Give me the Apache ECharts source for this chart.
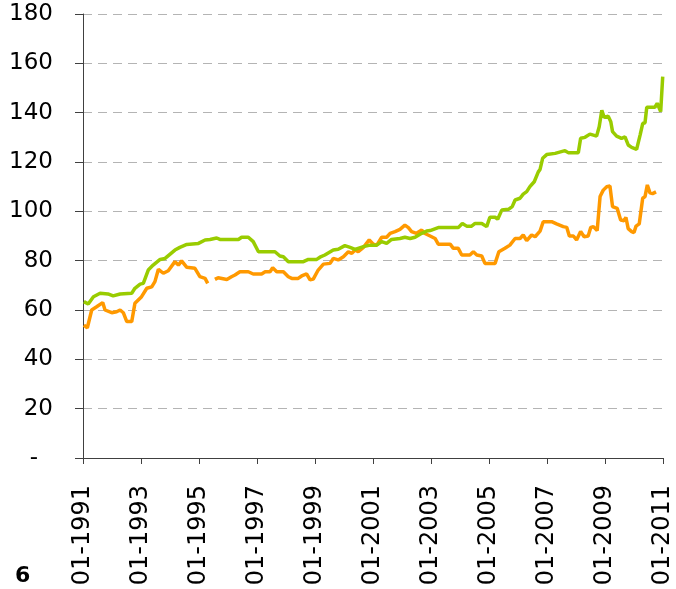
<!DOCTYPE html>
<html>
<head>
<meta charset="utf-8">
<style>
  html, body { margin: 0; padding: 0; background: #fff; }
  #chart { width: 676px; height: 589px; }
</style>
<script src="https://cdn.jsdelivr.net/npm/echarts@6/dist/echarts.min.js"></script>
</head>
<body>
<div id="chart"></div>
<script>
// x positions are decimal years (Jan 1991 = 1991.0)
const START_YEAR = 1991;
const END_YEAR = 2011;
const yTicks = [0, 20, 40, 60, 80, 100, 120, 140, 160, 180];

const greenYears = [
  1991.03, 1991.18, 1991.36, 1991.59, 1991.86, 1992.04, 1992.28, 1992.68, 1992.79, 1992.97,
  1993.08, 1993.25, 1993.42, 1993.66, 1993.83, 1994.17, 1994.34, 1994.58, 1994.98, 1995.21,
  1995.38, 1995.61, 1995.72, 1996.36, 1996.47, 1996.70, 1996.87, 1997.05, 1997.62, 1997.79,
  1997.91, 1998.08, 1998.60, 1998.77, 1999.06, 1999.17, 1999.34, 1999.63, 1999.80, 2000.03,
  2000.21, 2000.38, 2000.67, 2000.90, 2001.13, 2001.30, 2001.47, 2001.64, 2001.93, 2002.10,
  2002.28, 2002.45, 2002.68, 2002.85, 2002.97, 2003.25, 2003.94, 2004.08, 2004.23, 2004.40,
  2004.52, 2004.75, 2004.92, 2005.03, 2005.21, 2005.30, 2005.44, 2005.67, 2005.80, 2005.90,
  2006.07, 2006.18, 2006.30, 2006.41, 2006.56, 2006.70, 2006.76, 2006.85, 2006.99, 2007.28,
  2007.62, 2007.73, 2008.08, 2008.16, 2008.31, 2008.48, 2008.60, 2008.71, 2008.80, 2008.89,
  2008.97, 2009.11, 2009.20, 2009.26, 2009.40, 2009.57, 2009.69, 2009.80, 2009.92, 2010.09,
  2010.21, 2010.30, 2010.38, 2010.44, 2010.72, 2010.80, 2010.92, 2010.99
];
const greenValues = [
  63.4, 62.4, 65.4, 66.8, 66.5, 65.7, 66.5, 66.8, 68.8, 70.5,
  70.8, 76.2, 78.2, 80.5, 80.9, 84.3, 85.4, 86.6, 87.0, 88.4,
  88.6, 89.2, 88.6, 88.6, 89.5, 89.5, 87.7, 83.6, 83.6, 81.9,
  81.6, 79.6, 79.6, 80.5, 80.5, 81.4, 82.3, 84.3, 84.6, 86.1,
  85.4, 84.6, 85.7, 86.3, 86.3, 87.7, 87.0, 88.6, 89.0, 89.5,
  89.0, 89.5, 91.1, 92.0, 92.2, 93.4, 93.4, 95.1, 94.0, 94.0,
  95.1, 95.1, 93.8, 97.6, 97.6, 96.8, 100.5, 100.8, 101.9, 104.6,
  105.3, 107.0, 108.0, 110.0, 112.0, 116.0, 117.0, 121.5, 123.0, 123.5,
  124.6, 123.8, 123.8, 129.6, 130.0, 131.3, 130.9, 130.5, 134.3, 141.0,
  138.1, 138.6, 136.3, 132.3, 130.5, 129.6, 130.2, 126.9, 125.9, 125.1,
  130.9, 135.6, 135.9, 142.2, 142.2, 143.8, 140.4, 154.6
];

const orangeYears = [
  1991.03, 1991.15, 1991.30, 1991.47, 1991.68, 1991.76, 1991.99, 1992.16, 1992.28, 1992.39,
  1992.51, 1992.68, 1992.79, 1993.02, 1993.20, 1993.37, 1993.48, 1993.60, 1993.77, 1993.94,
  1994.17, 1994.29, 1994.40, 1994.58, 1994.86, 1995.03, 1995.21, 1995.30, 1995.42, 1995.55,
  1995.66, 1995.96, 1996.12, 1996.24, 1996.41, 1996.70, 1996.87, 1997.16, 1997.28, 1997.45,
  1997.54, 1997.68, 1997.91, 1998.08, 1998.20, 1998.42, 1998.54, 1998.71, 1998.83, 1998.94,
  1999.11, 1999.29, 1999.52, 1999.63, 1999.80, 1999.98, 2000.15, 2000.27, 2000.38, 2000.49,
  2000.67, 2000.87, 2001.01, 2001.13, 2001.30, 2001.47, 2001.59, 2001.76, 2001.93, 2002.10,
  2002.22, 2002.33, 2002.50, 2002.68, 2002.79, 2002.97, 2003.14, 2003.25, 2003.66, 2003.77,
  2003.94, 2004.06, 2004.34, 2004.46, 2004.58, 2004.75, 2004.86, 2005.21, 2005.34, 2005.55,
  2005.72, 2005.90, 2006.07, 2006.18, 2006.30, 2006.47, 2006.59, 2006.76, 2006.87, 2007.16,
  2007.33, 2007.56, 2007.68, 2007.77, 2007.91, 2008.02, 2008.16, 2008.28, 2008.42, 2008.51,
  2008.60, 2008.73, 2008.83, 2008.94, 2009.06, 2009.17, 2009.26, 2009.42, 2009.54, 2009.66,
  2009.72, 2009.80, 2009.92, 2010.00, 2010.07, 2010.18, 2010.30, 2010.38, 2010.46, 2010.55,
  2010.64, 2010.76
];
const orangeValues = [
  53.9, 52.8, 60.0, 61.3, 63.0, 60.0, 58.9, 59.3, 60.0, 58.9,
  55.3, 55.3, 62.7, 65.4, 68.8, 69.4, 71.5, 76.5, 74.9, 75.9,
  79.6, 78.2, 79.9, 77.3, 76.9, 73.5, 72.8, 70.8, null, 72.4,
  73.1, 72.4, 73.5, 74.2, 75.5, 75.5, 74.6, 74.6, 75.5, 75.5,
  77.1, 75.5, 75.5, 73.5, 72.8, 72.8, 73.8, 74.6, 72.2, 72.5,
  76.2, 78.6, 78.9, 80.9, 80.3, 81.6, 83.6, 83.0, 84.3, 83.6,
  85.4, 88.4, 86.7, 86.3, 89.5, 89.5, 91.1, 91.8, 92.7, 94.4,
  93.4, 91.8, 91.1, 92.4, 91.0, 90.0, 89.0, 86.7, 86.7, 85.0,
  85.0, 82.3, 82.3, 83.6, 82.3, 81.9, 78.9, 78.9, 83.6, 85.0,
  86.3, 89.0, 89.0, 90.4, 88.1, 90.4, 89.7, 92.0, 95.8, 95.8,
  94.9, 93.8, 93.5, 90.0, 90.0, 88.4, 91.8, 89.7, 90.0, 93.5,
  93.8, 92.2, 106.0, 108.6, 110.0, 110.3, 101.9, 101.2, 96.5, 96.2,
  97.6, 93.0, 91.8, 91.4, 94.0, 94.9, 105.3, 106.0, 110.7, 107.5,
  107.2, 107.9
];

const GREEN = '#99cc00';
const ORANGE = '#ff9900';
const FONT = '"DejaVu Sans", Verdana, sans-serif';

function pairs(years, values) {
  return years.map((y, i) => [y - START_YEAR, values[i]]);
}

const chart = echarts.init(document.getElementById('chart'), null, {renderer: 'canvas'});

chart.setOption({
  animation: false,
  backgroundColor: '#ffffff',
  grid: {left: 83, right: 13, top: 14, bottom: 131},
  xAxis: {
    type: 'value',
    min: 0,
    max: END_YEAR - START_YEAR,
    interval: 2,
    axisLine: {lineStyle: {color: '#404040', width: 1}},
    axisTick: {show: true, length: 6, lineStyle: {color: '#404040'}},
    splitLine: {show: false},
    axisLabel: {
      rotate: 90,
      margin: 27,
      color: '#000',
      fontFamily: FONT,
      fontSize: 24,
      formatter: v => '01-' + (START_YEAR + v),
    },
  },
  yAxis: {
    type: 'value',
    min: yTicks[0],
    max: yTicks[yTicks.length - 1],
    interval: 20,
    axisLine: {show: true, lineStyle: {color: '#404040', width: 1}},
    axisTick: {show: true, length: 8, inside: false, lineStyle: {color: '#404040'}},
    splitLine: {show: true, lineStyle: {color: '#b4b4b4', type: [9, 6], width: 1}},
    axisLabel: {
      margin: 30,
      color: '#000',
      fontFamily: FONT,
      fontSize: 23,
      formatter: v => (v === 0 ? '{d|-}' : String(v)),
      rich: {
        d: {fontFamily: FONT, fontSize: 23, color: '#000', padding: [0, 15, 0, 0]},
      },
    },
  },
  graphic: [{
    type: 'text',
    left: 15,
    top: 565,
    style: {text: '6', font: 'bold 22px ' + FONT, fill: '#000'},
  }],
  series: [
    {
      type: 'line',
      data: pairs(greenYears, greenValues),
      showSymbol: false,
      lineStyle: {color: GREEN, width: 3.5},
      itemStyle: {color: GREEN},
      z: 3,
    },
    {
      type: 'line',
      data: pairs(orangeYears, orangeValues),
      showSymbol: false,
      connectNulls: false,
      lineStyle: {color: ORANGE, width: 3.5},
      itemStyle: {color: ORANGE},
      z: 2,
    },
  ],
});
</script>
</body>
</html>
